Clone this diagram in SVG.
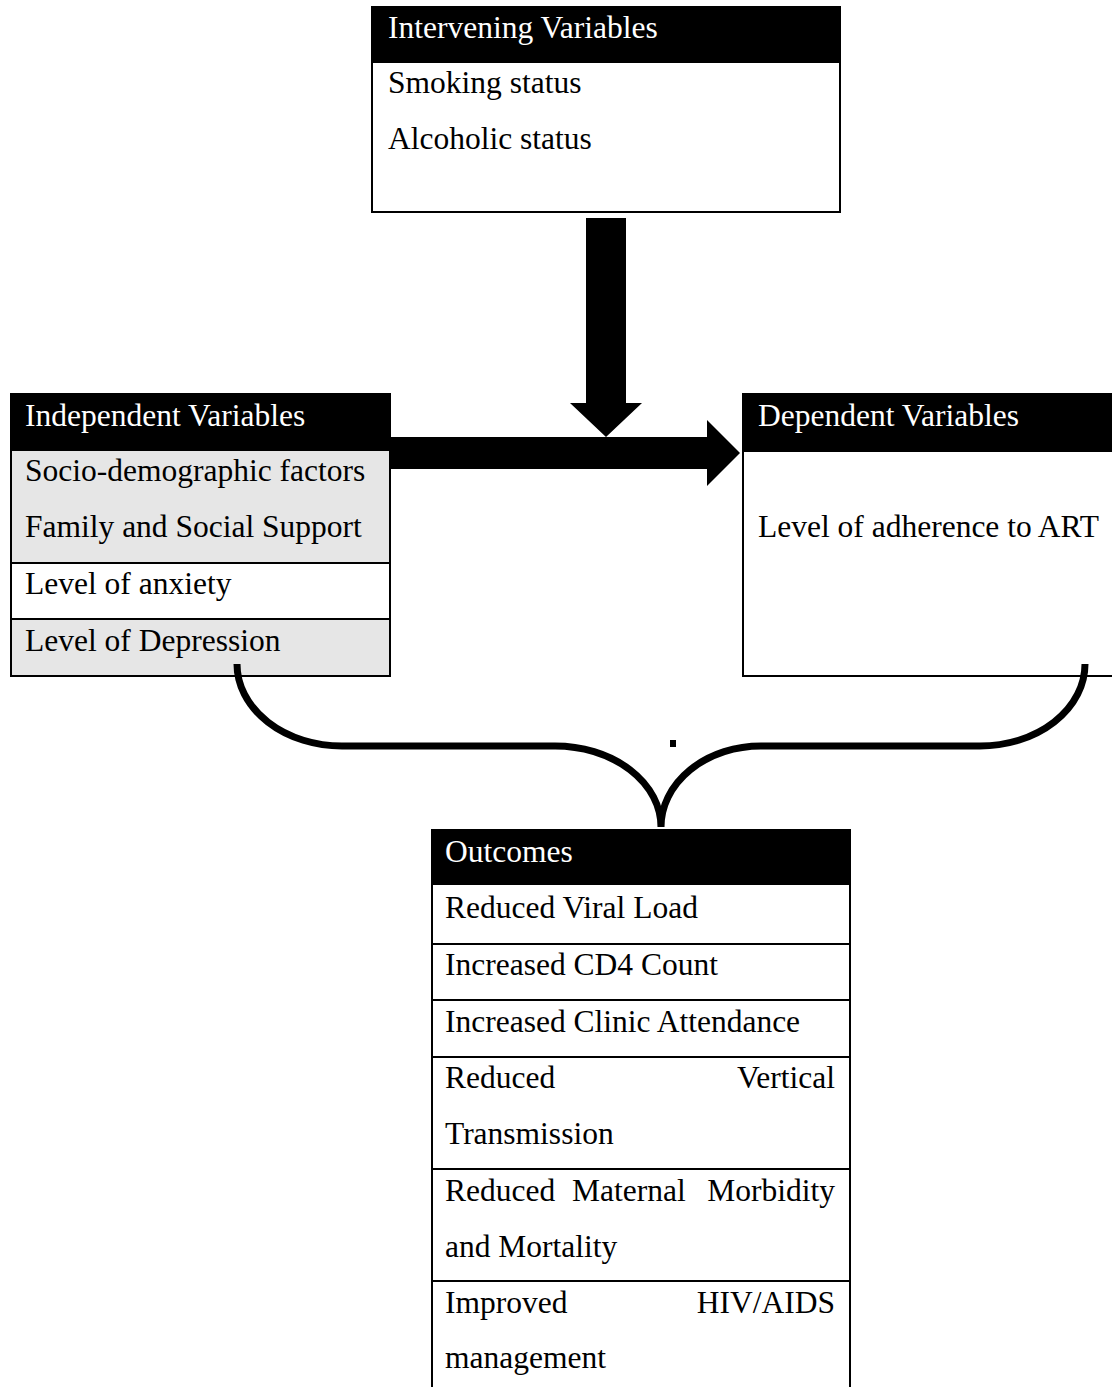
<svg xmlns="http://www.w3.org/2000/svg" width="1112" height="1387" viewBox="0 0 1112 1387">
  <style>
    text { font-family: "Liberation Serif", "Times New Roman", serif; font-size: 31.5px; fill: #000; }
    text.hd { fill: #fff; }
    .frame { fill: none; stroke: #000; stroke-width: 2; }
    .hdr { fill: #000; }
    .grey { fill: #e6e6e6; }
    .white { fill: #fff; }
    .sep { stroke: #000; stroke-width: 2; }
    .brace { fill: none; stroke: #000; stroke-width: 7; }
  </style>
  <rect width="1112" height="1387" fill="#fff"/>

  <g id="intervening">
    <rect class="white" x="372" y="7" width="468" height="205"/>
    <rect class="hdr" x="372" y="7" width="468" height="56"/>
    <rect class="frame" x="372" y="7" width="468" height="205"/>
    <text class="hd" x="388" y="38">Intervening Variables</text>
    <text x="388" y="93">Smoking status</text>
    <text x="388" y="149">Alcoholic status</text>
  </g>

  <g id="independent">
    <rect class="grey" x="11" y="451" width="379" height="112"/>
    <rect class="white" x="11" y="563" width="379" height="56"/>
    <rect class="grey" x="11" y="619" width="379" height="57"/>
    <rect class="hdr" x="11" y="394" width="379" height="57"/>
    <line class="sep" x1="11" y1="563" x2="390" y2="563"/>
    <line class="sep" x1="11" y1="619" x2="390" y2="619"/>
    <rect class="frame" x="11" y="394" width="379" height="282"/>
    <text class="hd" x="25" y="426">Independent Variables</text>
    <text x="25" y="481">Socio-demographic factors</text>
    <text x="25" y="537">Family and Social Support</text>
    <text x="25" y="594">Level of anxiety</text>
    <text x="25" y="651">Level of Depression</text>
  </g>

  <g id="dependent">
    <rect class="white" x="743" y="394" width="372" height="282"/>
    <rect class="hdr" x="743" y="394" width="372" height="58"/>
    <rect class="frame" x="743" y="394" width="372" height="282"/>
    <text class="hd" x="758" y="426">Dependent Variables</text>
    <text x="758" y="537">Level of adherence to ART</text>
  </g>

  <g id="outcomes">
    <rect class="white" x="432" y="830" width="418" height="560"/>
    <rect class="hdr" x="432" y="830" width="418" height="55"/>
    <line class="sep" x1="432" y1="944" x2="850" y2="944"/>
    <line class="sep" x1="432" y1="1000" x2="850" y2="1000"/>
    <line class="sep" x1="432" y1="1057" x2="850" y2="1057"/>
    <line class="sep" x1="432" y1="1169" x2="850" y2="1169"/>
    <line class="sep" x1="432" y1="1281" x2="850" y2="1281"/>
    <rect class="frame" x="432" y="830" width="418" height="570"/>
    <text class="hd" x="445" y="862">Outcomes</text>
    <text x="445" y="918">Reduced Viral Load</text>
    <text x="445" y="975">Increased CD4 Count</text>
    <text x="445" y="1032">Increased Clinic Attendance</text>
    <text x="445" y="1088">Reduced</text>
    <text x="835" y="1088" text-anchor="end">Vertical</text>
    <text x="445" y="1144">Transmission</text>
    <text x="445" y="1201">Reduced</text>
    <text x="572" y="1201">Maternal</text>
    <text x="835" y="1201" text-anchor="end">Morbidity</text>
    <text x="445" y="1257">and Mortality</text>
    <text x="445" y="1313">Improved</text>
    <text x="835" y="1313" text-anchor="end">HIV/AIDS</text>
    <text x="445" y="1368">management</text>
  </g>

  <g id="connectors">
    <polygon points="586,218 626,218 626,403 642,403 606,437 570,403 586,403" fill="#000"/>
    <polygon points="390,437 707,437 707,420 740,453 707,486 707,469 390,469" fill="#000"/>
    <path class="brace" d="M237,664 A105,82 0 0 0 342,746 L555,746 A106,81 0 0 1 661,827 A100,81 0 0 1 761,746 L980,746 A105,82 0 0 0 1085,664"/>
    <rect x="670" y="740" width="6" height="7" fill="#000"/>
  </g>
</svg>
